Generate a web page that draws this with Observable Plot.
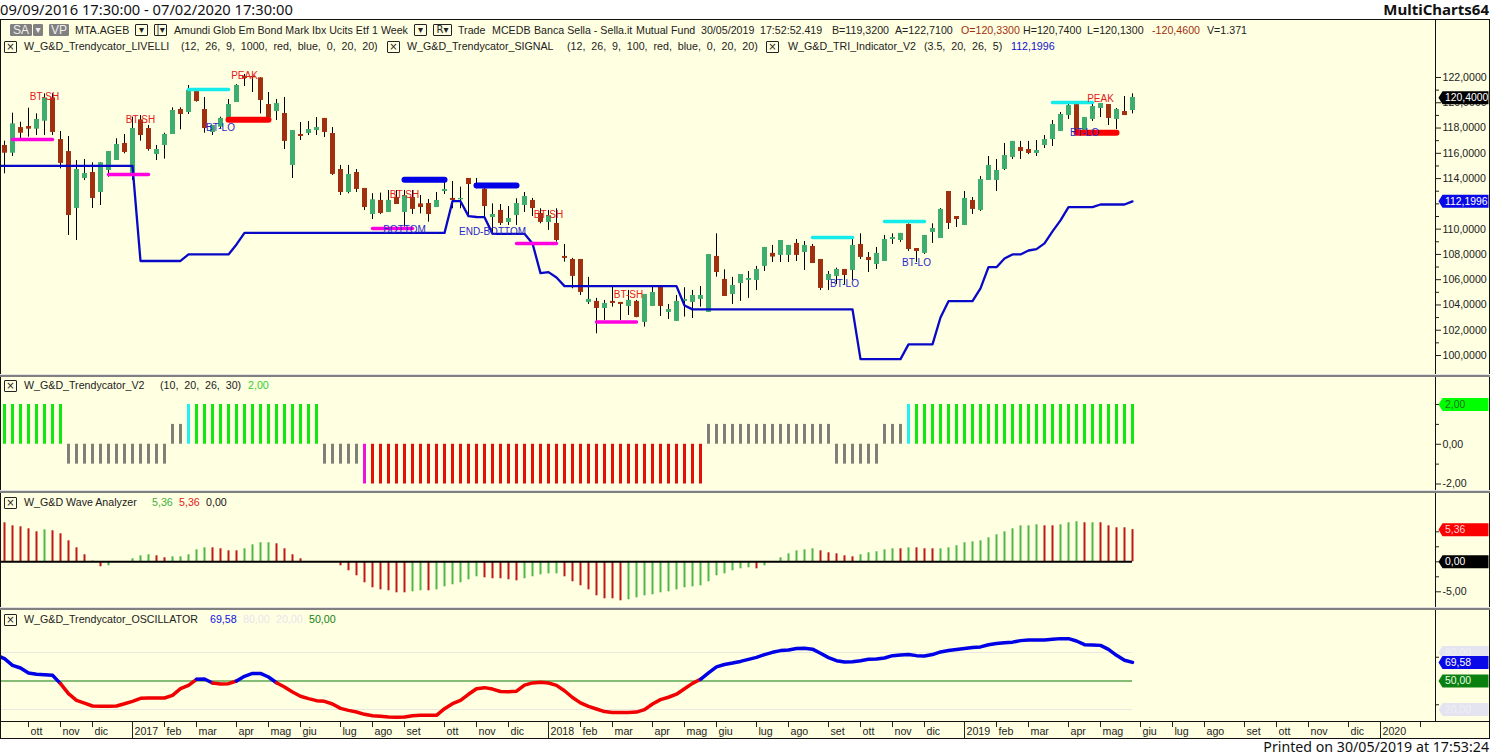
<!DOCTYPE html>
<html>
<head>
<meta charset="utf-8">
<script src="https://cdn.jsdelivr.net/npm/d3@7"></script>
<script src="https://cdn.jsdelivr.net/npm/@observablehq/plot@0.6"></script>
<style>
html,body{margin:0;padding:0;background:#fff;overflow:hidden}
#page{position:relative;width:1490px;height:756px;overflow:hidden;background:#fff}
.t{position:absolute;transform:translateY(-50%);white-space:pre;font:10.67px "Liberation Sans",Arial,sans-serif;color:#222;line-height:12px;z-index:5}
.big{font:14.7px "Noto Sans",sans-serif;color:#111;line-height:18px}
.box{position:absolute;box-sizing:border-box;border:1px solid #222;border-radius:1px;background:#ffffe1;text-align:center;font:10px/10px "DejaVu Sans",sans-serif;color:#222;z-index:5}
.ln{position:absolute;z-index:6}
</style>
</head>
<body>
<div id="page"></div>
<script>
const high=[116.96,119.18,118.46,119.57,119.12,120.71,120.71,117.73,117.33,115.43,115.51,115.25,115.25,116.14,117.15,117.49,118.86,118.99,118.20,116.62,
117.59,119.60,119.60,121.37,120.97,120.42,118.20,118.86,120.26,121.44,122.24,122.08,121.97,120.81,120.26,120.42,117.80,118.44,118.52,118.83,
118.76,118.04,115.04,115.04,114.72,113.22,112.80,112.85,113.06,113.06,113.06,113.06,112.66,112.35,112.90,113.72,113.77,113.32,114.01,114.01,
113.45,112.00,111.95,111.79,112.40,112.90,112.43,111.61,111.48,111.61,108.79,107.68,107.60,106.18,104.52,104.36,105.41,104.20,105.15,104.36,
104.83,105.41,105.54,104.04,104.75,105.36,105.15,105.46,107.99,109.63,106.78,106.18,106.41,106.65,107.05,108.55,108.71,109.10,108.71,109.18,
109.02,108.79,107.60,106.65,106.91,106.81,109.18,109.63,108.15,108.55,109.50,109.63,109.66,110.42,108.47,109.50,110.42,111.63,112.98,111.00,
112.98,112.50,114.17,115.75,115.51,116.78,116.94,116.94,116.94,117.01,117.41,118.60,119.23,119.86,119.86,118.83,120.02,119.94,119.86,119.55,120.50,120.71];
const upper=[116.62,118.33,118.04,118.12,118.68,120.39,120.39,117.09,116.14,114.72,114.40,114.48,115.25,116.14,116.70,116.78,117.96,118.65,117.96,116.30,
117.49,119.39,119.47,120.97,120.89,119.47,118.20,118.76,119.86,121.37,122.08,122.08,121.97,119.86,119.94,119.15,117.80,117.49,117.88,118.04,
118.76,117.57,114.72,114.33,114.48,113.22,112.32,112.27,112.27,112.50,112.66,112.50,112.00,112.03,112.27,113.14,112.43,112.43,114.01,113.59,
113.16,111.16,111.48,110.84,112.03,112.58,112.27,111.24,111.08,110.45,107.84,107.60,107.60,104.44,104.28,104.12,104.28,104.20,104.36,104.28,
104.83,104.99,105.38,103.64,104.28,104.44,104.75,104.75,107.99,107.84,106.02,105.54,106.41,106.10,106.81,108.55,108.08,109.10,108.71,108.87,
108.71,108.63,107.60,106.41,106.81,106.81,108.71,108.79,107.76,108.08,109.18,109.34,109.66,110.37,108.47,109.50,110.05,111.56,112.98,111.00,
112.43,112.27,113.93,115.04,114.64,115.83,116.94,116.46,116.30,116.22,117.09,118.28,119.07,119.78,119.86,118.83,119.70,119.94,119.86,119.47,119.31,120.42];
const lower=[116.01,116.01,117.59,117.91,117.91,118.54,117.65,115.20,111.08,111.63,114.01,112.43,112.90,114.64,115.43,116.07,114.38,117.41,116.30,115.90,
116.62,117.49,119.07,119.23,120.10,117.96,117.65,118.07,118.76,120.02,121.92,121.97,120.18,118.83,119.31,116.94,115.04,117.33,117.57,117.80,
117.65,114.33,112.90,112.90,113.14,111.71,111.16,111.24,111.32,111.95,111.32,111.56,111.71,111.16,111.71,112.98,112.27,112.32,113.53,113.32,
111.79,110.92,110.45,110.53,111.08,111.87,111.63,110.53,110.53,109.10,107.68,106.26,104.99,104.20,103.72,103.72,104.12,104.04,103.88,103.01,
102.62,103.88,103.88,103.41,102.70,104.28,104.20,104.44,103.41,106.57,104.67,104.83,105.70,105.94,105.94,107.05,107.79,107.92,107.92,107.92,
108.15,107.28,105.31,105.94,106.26,106.33,106.73,107.76,107.52,107.20,107.44,109.18,109.10,108.39,108.23,108.08,109.74,109.26,110.45,110.76,
110.29,111.56,111.48,113.85,113.85,114.72,115.67,116.14,115.99,115.99,116.62,117.09,117.73,118.99,117.80,117.80,118.68,119.55,118.76,118.68,118.99,119.39];
const low=[114.38,115.75,117.15,117.28,117.41,117.41,117.41,114.77,109.50,109.10,113.85,111.63,111.87,114.11,115.43,115.96,113.85,116.96,116.17,115.43,
115.54,117.49,117.86,119.07,120.05,117.59,117.41,117.94,118.60,120.02,121.29,120.81,119.12,118.46,118.60,116.30,114.01,117.01,117.41,117.41,
117.25,114.25,112.66,112.80,112.90,111.48,110.76,111.16,111.32,111.95,110.16,111.16,111.21,110.55,111.71,112.74,111.61,111.61,110.95,113.19,
110.90,109.63,110.29,110.29,110.29,111.32,111.00,110.42,109.90,108.97,107.39,105.28,104.75,104.04,101.72,102.77,103.83,102.77,103.17,102.99,
102.25,103.88,103.09,102.85,102.70,103.04,102.93,103.83,103.41,106.20,104.67,104.04,104.28,104.52,105.15,106.65,107.36,107.36,107.36,107.44,
106.73,107.28,105.15,105.15,105.62,105.62,105.94,107.60,106.57,106.81,107.44,108.79,108.95,108.23,107.36,108.00,108.87,109.26,109.97,110.13,
110.29,111.16,111.40,113.85,112.98,114.64,115.51,115.51,115.90,115.75,116.38,116.54,117.73,118.68,117.67,117.54,118.52,118.83,118.20,117.88,118.99,119.12];
const candleDirection=("RGRRGGRRRG"+"GRGGGRGRRG"+"GGRGRRGGGG"+"RRRRGRGRGG"+"RRRGRRGRGR"+"GRRRGGRGRG"+"RGRGGGRRGR"+"RRRGRGRRGR"+"GGRGGGGGGR"+"RGGGGGRGGR"+"GRRGGRGRRG"+"GGGRRGGGRR"+"GRGGGGGRRG"+"GGGGRGGGRG"+"RG").split("");
const triLine=[115,115,115,115,115,115,115,115,115,115,115,115,115,115,115,115,115,107.48,107.48,107.48,
107.48,107.48,107.48,108,108,108,108,108,108,108.79,109.7,109.7,109.7,109.7,109.7,109.7,109.7,109.7,109.7,109.7,
109.7,109.7,109.7,109.7,109.7,109.7,109.7,109.7,109.7,109.7,109.7,109.7,109.7,109.7,109.7,109.7,112.21,112.21,111.03,110.96,
110.95,109.63,109.63,109.63,109.63,109.63,108.87,106.52,106.6,106.17,105.49,105.49,105.49,105.49,105.49,105.49,105.49,105.49,105.49,105.49,
105.49,105.49,105.49,105.49,105.49,103.96,103.65,103.65,103.65,103.65,103.65,103.65,103.65,103.65,103.65,103.65,103.65,103.65,103.65,103.65,
103.65,103.65,103.65,103.65,103.65,103.65,103.65,99.71,99.71,99.71,99.71,99.71,99.71,100.88,100.88,100.88,100.88,103.01,104.3,104.3,
104.3,104.3,105.31,106.99,106.99,107.68,108,108,108.31,108.42,108.87,109.82,110.69,111.74,111.74,111.74,111.74,111.95,111.95,111.95,111.95,112.2];
const levelStart=[1,13,23,28,50,59,46,64,74,101,110,131,134];
const levelEnd=[6,18,28,33,55,64,51,69,79,106,115,136,139];
const levelValue=[117.09,114.33,121.05,118.65,113.9,113.45,110.05,108.87,102.65,109.34,110.6,120.02,117.62];
const levelKind=["m","m","c","r","b","b","m","m","m","c","c","c","r"];
const noteBar=[5,17,30,27,50,50,61,68,78,105,114,135,137];
const noteValue=[120.5,118.68,122.16,118.04,112.74,109.97,109.8,111.16,104.83,105.68,107.36,117.59,120.35];
const noteText=["BT-SH","BT-SH","PEAK","BT-LO","BT-SH","BOTTOM","END-BOTTOM","BT-SH","BT-SH","BT-LO","BT-LO","BT-LO","PEAK"];
const trendRuns=[[8,2,"green"],[13,-1,"gray"],[2,1,"gray"],[1,2,"cyan"],[16,2,"green"],[5,-1,"gray"],[1,-2,"magenta"],[42,-2,"red"],[16,1,"gray"],[6,-1,"gray"],[3,1,"gray"],[1,2,"cyan"],[28,2,"green"]];
const waveValue=[6.5,6,5.83,5.5,5,5.33,5.17,4.67,3.5,2.33,1.17,0.1,-0.83,-0.67,0,0,0.5,1,1.17,1,
0.67,0.83,0.83,1.17,2,2.33,2.33,2.17,1.83,1.83,2.17,2.83,3.17,3.17,3,2.17,1.17,0.5,0,0,
0,0,-0.67,-1.5,-2.33,-3.5,-4.33,-4.67,-4.83,-5.17,-5.17,-5,-4.83,-4.83,-4.67,-4.17,-3.83,-3.5,-3,-2.5,
-2.67,-2.83,-2.83,-3,-3.17,-2.83,-2.5,-2.17,-2,-2,-2.5,-3.33,-4,-4.67,-5.67,-6.17,-6.17,-6.5,-6.33,-6,
-5.67,-5.5,-5.17,-5,-4.67,-4.33,-4.17,-4,-3.33,-2.33,-2,-1.5,-1.17,-1,-1.17,-0.67,0,0.67,1.33,1.83,
2,2.17,1.83,1.5,1.33,1,0.83,1.17,1.5,1.67,2,2.17,2.17,2.33,2.33,2.17,2.17,2.17,2.33,2.67,
3.17,3.33,3.5,4,4.5,5,5.5,6,6,6.17,6,6,6.17,6.5,6.67,6.5,6.5,6.5,6,5.67,5.67,5.36];
const waveDirection=("RRRRRGRRRR"+"RRRGGGGGGR"+"RGGGGGRRRR"+"GGGGRRRRRR"+"RRRRRRRRRR"+"RGGRGGGGGG"+"RRRRRGGGGG"+"RRRRRRRRGG"+"GGGGGGGGGG"+"GGGGRGGGGG"+"GGRRRRRGGG"+"GGRGRRRGGG"+"GGGGGGGGGG"+"RRGGGRGRRR"+"RR").split("");
const oscValue=[73.5,66.5,63.7,58.4,57,56.7,56,47.2,36.7,29.6,26.8,23.7,23.3,23.3,23.7,26.1,28.6,31.8,32.1,32.1,
32.1,34.9,41.9,45.4,51.8,52.1,47.9,46.8,47.2,50,54.9,58,58,54.2,48.2,43.7,38.4,33.9,31.4,29.3,
28.6,25.8,21.2,19.1,17.4,14.9,13.5,12.8,12.1,11.8,12.1,13.5,13.9,13.9,13.9,20.9,26.1,29.6,36,41.9,
43,41.5,39,38.6,39.3,45.7,48,48.6,47.9,45.4,39.7,32.6,27,23.3,20.5,17.8,16.9,16.9,16.9,17.3,
19.8,25.8,30.4,32.9,36.1,41.8,47.5,51.8,58.5,64.9,67.4,68.9,70.6,72.8,74.9,77.8,80.2,82,82.7,84.2,
84.5,83.5,79.2,74.6,71.4,69.9,70.3,71.4,72.8,73.1,74.2,76.7,77.4,77.8,76.7,76.3,77.8,80.6,82,83.1,
84.2,85.2,85.9,88.1,89.5,90.2,90.9,92.5,93.2,93.2,93.2,93.9,94.6,94.6,92.1,88.2,87.9,87.5,83.3,77,71.8,69.58];
const triLead=115, oscLead=75.3;
const monthBar=[3,7,11,16,20,24,29,33,37,42,46,50,55,59,63,68,72,76,81,85,89,94,98,103,107,111,115,120,124,128,133,137,142,146,150,155,159,163,168,172,177];
const monthLabel=["ott","nov","dic","2017","feb","mar","apr","mag","giu","lug","ago","set","ott","nov","dic","2018","feb","mar","apr","mag","giu","lug","ago","set","ott","nov","dic","2019","feb","mar","apr","mag","giu","lug","ago","set","ott","nov","dic","2020",""];
const priceTicks=[100,102,104,106,108,110,114,116,118,120,122];
const priceMinor=[101,103,105,107,109,111,112,113,115,117,119,121];

const BG="#ffffe1";
const FONT='"Liberation Sans",Arial,sans-serif';
const page=document.getElementById("page");
const bars=d3.range(142);
const leadIn=[-0.5,...bars];
const xScale={domain:[-0.5,178.875],range:[0,1435],axis:null};
const colorOf={G:"#3fac70",R:"#a0300f"};
const levelColor={m:"#ff00e0",c:"#14ecec",r:"#fa0000",b:"#0000e6"};
const levelWidth={m:3.5,c:3.5,r:6,b:6};
const trendColor={green:"#10e810",gray:"#808078",cyan:"#20f0f0",magenta:"#f010e0",red:"#e40f0a"};
const fmt=n=>d=>d.toFixed(n).replace(".",",");
const tagShape={draw(c){c.moveTo(3,0);c.lineTo(7,-6.5);c.lineTo(53,-6.5);c.lineTo(53,6.5);c.lineTo(7,6.5);c.closePath();}};
function tags(values,fills,inks,n){
  return [
    Plot.dot(values,{y:d=>d,frameAnchor:"right",symbol:tagShape,r:6,fill:(d,i)=>fills[i],stroke:"none"}),
    Plot.text(values,{y:d=>d,frameAnchor:"right",dx:9.5,textAnchor:"start",text:fmt(n),fill:(d,i)=>inks[i],fontSize:10.4})
  ];
}
function axes(major,minor,n){
  return [
    Plot.axisY(major,{anchor:"right",tickSize:5,tickPadding:2,tickFormat:fmt(n),label:null,fontSize:10.6,color:"#222"}),
    Plot.axisY(minor,{anchor:"right",tickSize:3,tickFormat:()=>"",label:null,color:"#222"})
  ];
}
function panel(top,height,yDomain,yRange,marks){
  const svg=Plot.plot({width:1490,height,marginLeft:0,marginRight:55,marginTop:0,marginBottom:0,
    x:xScale,y:{domain:yDomain,range:yRange,axis:null},
    style:{position:"absolute",left:"0px",top:top+"px",background:BG,fontFamily:FONT,fontSize:"10.67px",color:"#222",overflow:"visible"},
    marks});
  page.appendChild(svg);
}
// main price panel
panel(20,355,[100,122],[335,57],[
  Plot.ruleX(bars,{x:d=>d,y1:i=>low[i],y2:i=>high[i],stroke:"#000",strokeWidth:1}),
  Plot.ruleX(bars,{x:d=>d,y1:i=>lower[i],y2:i=>upper[i],stroke:i=>colorOf[candleDirection[i]],strokeWidth:5}),
  Plot.line(leadIn,{x:d=>d,y:d=>d<0?triLead:triLine[d],stroke:"#0808c8",strokeWidth:2.3}),
  Plot.link(levelStart,{x1:d=>d,x2:(d,i)=>levelEnd[i],y1:(d,i)=>levelValue[i],y2:(d,i)=>levelValue[i],
    stroke:(d,i)=>levelColor[levelKind[i]],strokeWidth:(d,i)=>levelWidth[levelKind[i]],strokeLinecap:"round"}),
  Plot.text(noteText,{x:(d,i)=>noteBar[i],y:(d,i)=>noteValue[i],text:d=>d,fontSize:10,
    fill:d=>d==="PEAK"||d==="BT-SH"?"#e52020":"#2828c8"}),
  ...axes(priceTicks,priceMinor,4),
  ...tags([120.4,112.1996],["#000","#0808e8"],["#fff","#fff"],4)
]);
// trend state panel
const trendValue=trendRuns.flatMap(([n,v])=>Array(n).fill(v));
const trendKind=trendRuns.flatMap(([n,,k])=>Array(n).fill(k));
panel(377,114,[-2,2],[106.5,27],[
  Plot.ruleX(bars,{x:d=>d,y1:0,y2:i=>trendValue[i],stroke:i=>trendColor[trendKind[i]],strokeWidth:3}),
  ...axes([0,-2],[2,1,-1],2),
  ...tags([2],["#00ff00"],["#207020"],2)
]);
// wave analyzer panel
panel(493,115,[-5,0],[98.3,68.3],[
  Plot.ruleX(bars,{x:d=>d,y1:0,y2:i=>waveValue[i],stroke:i=>waveDirection[i]==="G"?"#4db848":"#c01818",strokeWidth:2}),
  Plot.ruleY([0],{x1:-0.5,x2:141,stroke:"#000",strokeWidth:2}),
  ...axes([-5],[5,2.5,0,-2.5],2),
  ...tags([5.36,0],["#fa0000","#000"],["#ffd0d0","#fff"],2)
]);
// oscillator panel
panel(610,112,[20,80],[99,42],[
  Plot.ruleY([80,20],{x1:-0.5,x2:141,stroke:"#e8e8e0",strokeWidth:1}),
  Plot.ruleY([50],{x1:-0.5,x2:141,stroke:"#0a7a0a",strokeWidth:1}),
  Plot.line(leadIn,{x:d=>d,y:d=>d<0?oscLead:oscValue[d],z:null,stroke:d=>(d<0?oscLead:oscValue[d])>=50?"#0000e6":"#f00000",strokeWidth:3.5,strokeLinecap:"round"}),
  ...axes([],[25,75],2),
  ...tags([80,20],["#e4e4f0","#e4e4f0"],["#eeeef4","#eeeef4"],2),
  ...tags([69.58,50],["#0808e8","#0a8010"],["#fff","#e8ffe8"],2)
]);
// month strip
{
  const svg=Plot.plot({width:1490,height:16,marginLeft:0,marginRight:55,marginTop:0,marginBottom:0,
    x:xScale,y:{domain:[0,16],range:[0,16],axis:null},
    style:{position:"absolute",left:"0px",top:"722px",background:BG,fontFamily:FONT,fontSize:"10.67px",color:"#222",overflow:"visible"},
    marks:[
      Plot.ruleX(monthBar,{x:d=>d,y1:0,y2:(d,i)=>/^20/.test(monthLabel[i])?16:5,stroke:"#222",strokeWidth:1}),
      Plot.text(monthLabel,{x:(d,i)=>monthBar[i],y:9,text:d=>d,textAnchor:"start",dx:2,fontSize:10.67,fill:"#222"})
    ]});
  page.appendChild(svg);
}
// text and chrome around the panels
function t(x,y,s,c,cls){const e=document.createElement("div");e.className="t "+(cls||"");e.style.left=x+"px";e.style.top=y+"px";if(c)e.style.color=c;e.textContent=s;page.appendChild(e);return e;}
function box(x,y,w,h,s,bg,c){const e=document.createElement("div");e.className="box";e.style.cssText=`left:${x}px;top:${y}px;width:${w}px;height:${h}px;`+(bg?`background:${bg};border-color:${bg};`:"")+(c?`color:${c};`:"");e.textContent=s;page.appendChild(e);return e;}
function ln(x,y,w,h,c){const e=document.createElement("div");e.className="ln";e.style.cssText=`left:${x}px;top:${y}px;width:${w}px;height:${h}px;background:${c}`;page.appendChild(e);}
t(0,9,"09/09/2016 17:30:00 - 07/02/2020 17:30:00",null,"big");
const mc=t(0,9,"MultiCharts64",null,"big");mc.style.left="auto";mc.style.right="1px";mc.style.fontWeight="700";mc.style.fontSize="15px";
const pr=t(0,747,"Printed on 30/05/2019 at 17:53:24",null,"big");pr.style.left="auto";pr.style.right="1px";pr.style.fontSize="14.2px";
ln(0,19,1490,1,"#111");ln(0,20,1,718,"#111");ln(1489,20,1,718,"#111");ln(0,738,1490,1,"#111");ln(0,721,1490,1,"#111");ln(1435,20,1,702,"#111");
for(const y of [375,491,608]){ln(0,y-1,1490,1,"#e0e0e0");ln(0,y,1490,2,"#808080");}
box(10,24,22,12,"SA","#808080","#eee").style.font="12px/11px 'Liberation Sans'";
box(33,24,10,12,"▾","#808080","#eee");
box(49,24,20,12,"VP","#808080","#eee").style.font="12px/11px 'Liberation Sans'";
t(75,30,"MTA.AGEB");
box(135,24,13,12,"▾");box(154,24,13,12,"|▾");
t(174,30,"Amundi Glob Em Bond Mark Ibx Ucits Etf");t(372,30,"1 Week");
box(414,24,13,12,"▾");box(433,24,19,12,"R▾");
t(458,30,"Trade");t(492,30,"MCEDB");t(534,30,"Banca Sella - Sella.it");t(636,30,"Mutual Fund");t(701,30,"30/05/2019");t(760,30,"17:52:52.419");
t(832,30,"B=119,3200");t(895,30,"A=122,7100");t(961,30,"O=120,3300","#a0300f");t(1023,30,"H=120,7400");t(1087,30,"L=120,1300");t(1152,30,"-120,4600","#a0300f");t(1207,30,"V=1.371");
box(4,41,13,12,"×");t(24,46,"W_G&D_Trendycator_LIVELLI");t(181,46,"(12,  26,  9,  1000,  red,  blue,  0,  20,  20)");
box(387,41,13,12,"×");t(407,46,"W_G&D_Trendycator_SIGNAL");t(567,46,"(12,  26,  9,  100,  red,  blue,  0,  20,  20)");
box(766,41,13,12,"×");t(788,46,"W_G&D_TRI_Indicator_V2");t(924,46,"(3.5,  20,  26,  5)");t(1011,46,"112,1996","#1010d0");
box(4,380,13,12,"×");t(24,385,"W_G&D_Trendycator_V2");t(160,385,"(10,  20,  26,  30)");t(248,385,"2,00","#30d030");
box(4,497,13,12,"×");t(24,502,"W_G&D Wave Analyzer");t(152,502,"5,36","#40b040");t(179,502,"5,36","#e02020");t(206,502,"0,00","#111");
box(4,614,13,12,"×");t(24,619,"W_G&D_Trendycator_OSCILLATOR");t(210,619,"69,58","#1010e0");t(243,619,"80,00","#e6e6ee");t(276,619,"20,00","#e6e6ee");t(309,619,"50,00","#108010");
</script>
</body>
</html>
